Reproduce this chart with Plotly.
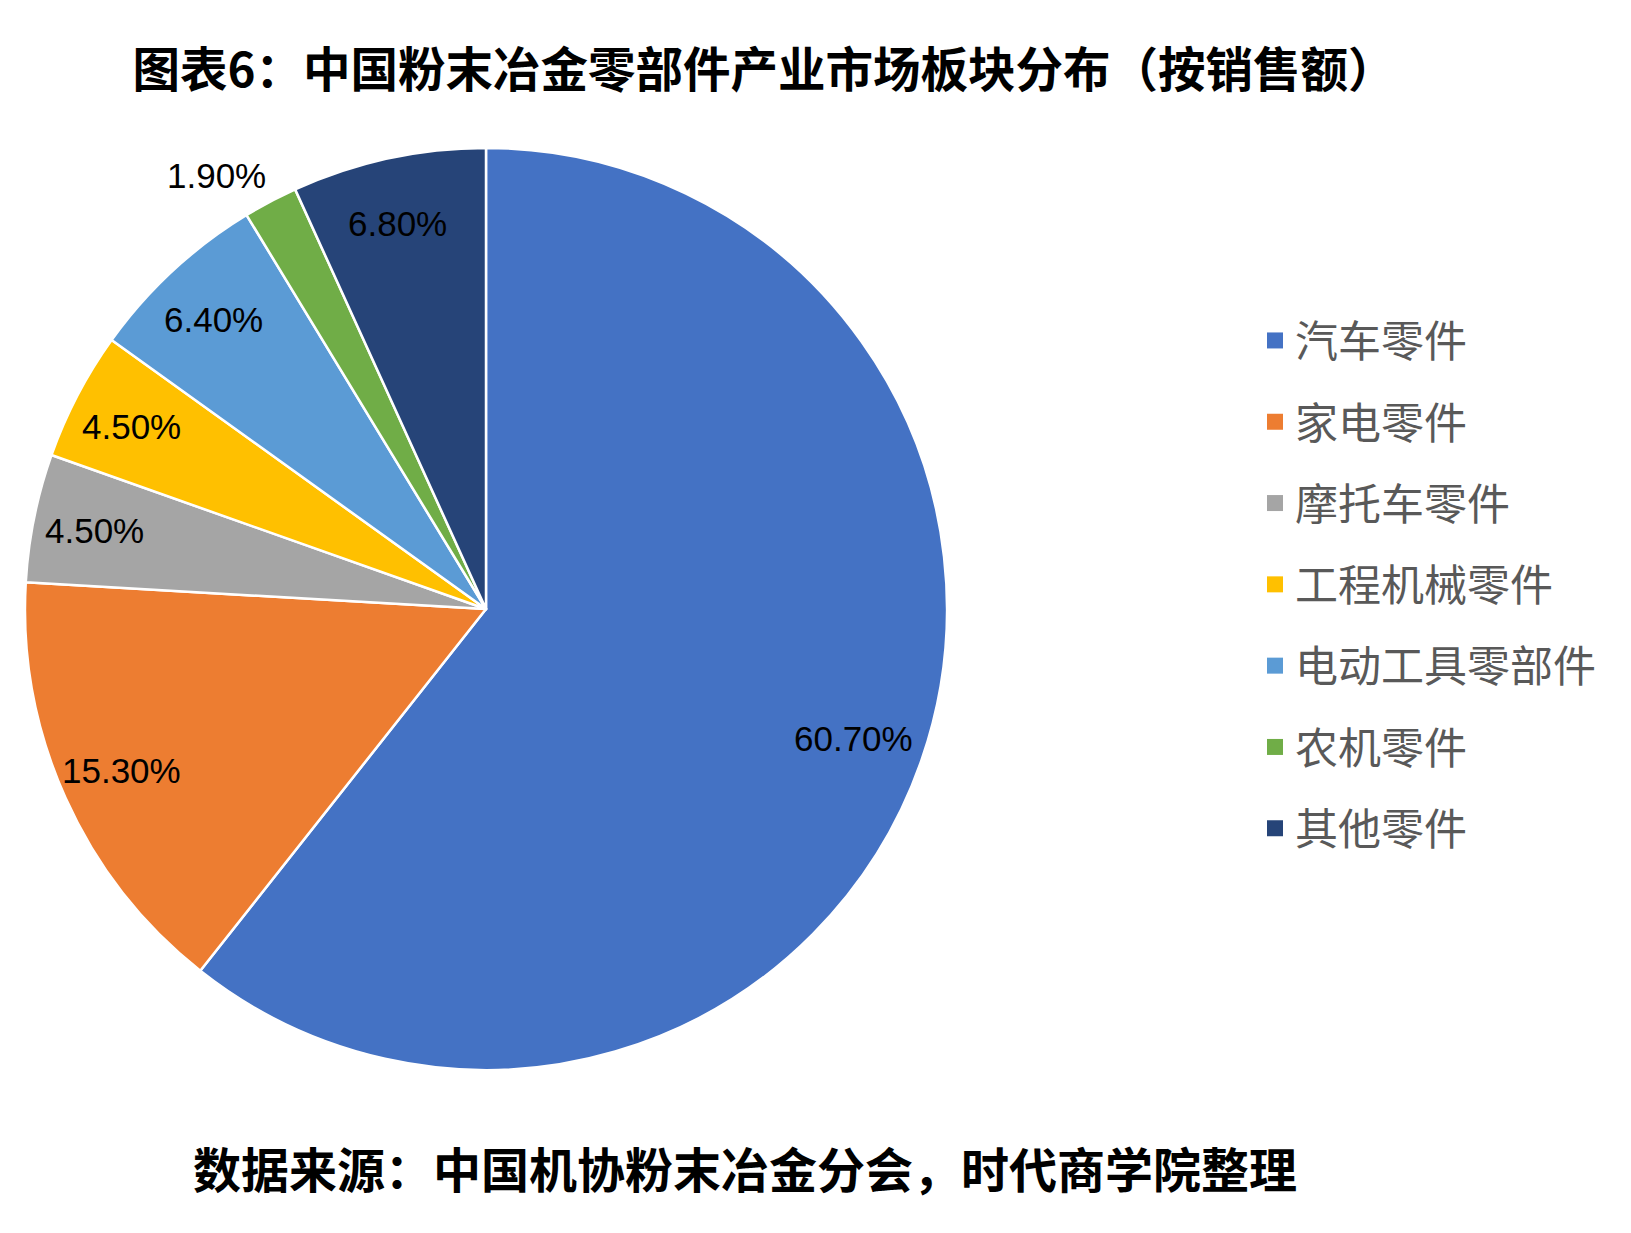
import math
import plotly.graph_objects as go

categories = ["汽车零件", "家电零件", "摩托车零件", "工程机械零件", "电动工具零部件", "农机零件", "其他零件"]
shares = [60.7, 15.3, 4.5, 4.5, 6.4, 1.9, 6.8]
colors = ["#4472C4", "#ED7D31", "#A5A5A5", "#FFC000", "#5B9BD5", "#70AD47", "#264478"]
label_outside = [False, False, False, False, False, True, False]

title_text = "图表6：中国粉末冶金零部件产业市场板块分布（按销售额）"
source_text = "数据来源：中国机协粉末冶金分会，时代商学院整理"

W, H = 1631, 1233
NUM_FONT = "Liberation Sans Narrow, Arial Narrow, Liberation Sans, Arial, sans-serif"
CJK_FONT = "Noto Sans CJK SC, sans-serif"

# pie placement (pixels)
PIE_L, PIE_R, PIE_T, PIE_B = 17, 939, 140, 1062
cx, cy = (PIE_L + PIE_R) / 2, (PIE_T + PIE_B) / 2
radius = (PIE_R - PIE_L) / 2
R_IN, R_OUT = 0.855, 1.01

fig = go.Figure()
fig.add_trace(go.Pie(
    labels=categories,
    values=shares,
    sort=False,
    direction="clockwise",
    rotation=0,
    marker=dict(colors=colors, line=dict(color="white", width=2.5)),
    textinfo="none",
    showlegend=False,
    hoverinfo="label+percent",
    domain=dict(x=[PIE_L / W, PIE_R / W], y=[1 - PIE_B / H, 1 - PIE_T / H]),
))

# data labels placed on each slice's bisector (derived from the values)
annotations = []
total = sum(shares)
cum = 0.0
for v, outside in zip(shares, label_outside):
    theta = math.radians((cum + v / 2) / total * 360)
    cum += v
    s, c = math.sin(theta), math.cos(theta)
    if outside:
        f = R_OUT
        xa = "right" if s < 0 else "left"
        ya = "bottom" if c > 0 else "top"
        xs = 0
    else:
        f = R_IN
        xa, ya = "center", "middle"
        xs = -5
    px = cx + f * radius * s
    py = cy - f * radius * c
    annotations.append(dict(
        text=f"{v:.2f}%", x=px / W, y=1 - py / H, xref="paper", yref="paper",
        xanchor=xa, yanchor=ya, xshift=xs, showarrow=False,
        font=dict(family=NUM_FONT, size=35, color="black"),
    ))

annotations.append(dict(
    text="<b>" + source_text + "</b>",
    x=737 / W, y=1 - 1159 / H, xref="paper", yref="paper",
    xanchor="center", yanchor="middle", showarrow=False,
    font=dict(family=CJK_FONT, size=48, color="black"),
))

# legend entries (one per category, separate groups for spacing)
for name, col in zip(categories, colors):
    fig.add_trace(go.Scatter(
        x=[None], y=[None], mode="markers", name=name, legendgroup=name,
        marker=dict(symbol="square", size=16, color=col),
        showlegend=True,
    ))

fig.update_layout(
    width=W, height=H,
    margin=dict(l=0, r=0, t=0, b=0),
    paper_bgcolor="white",
    plot_bgcolor="white",
    xaxis=dict(visible=False),
    yaxis=dict(visible=False),
    title=dict(
        text="<b>" + title_text + "</b>",
        x=756 / W, xanchor="center",
        y=1 - 62 / H, yanchor="middle",
        font=dict(family=CJK_FONT, size=47.5, color="black"),
    ),
    legend=dict(
        x=1247 / W, xanchor="left",
        y=1 - 298 / H, yanchor="top",
        font=dict(family=CJK_FONT, size=43, color="#595959"),
        tracegroupgap=22.4,
        bgcolor="rgba(0,0,0,0)",
        itemclick=False,
    ),
    annotations=annotations,
)

fig.write_html("out.html")
